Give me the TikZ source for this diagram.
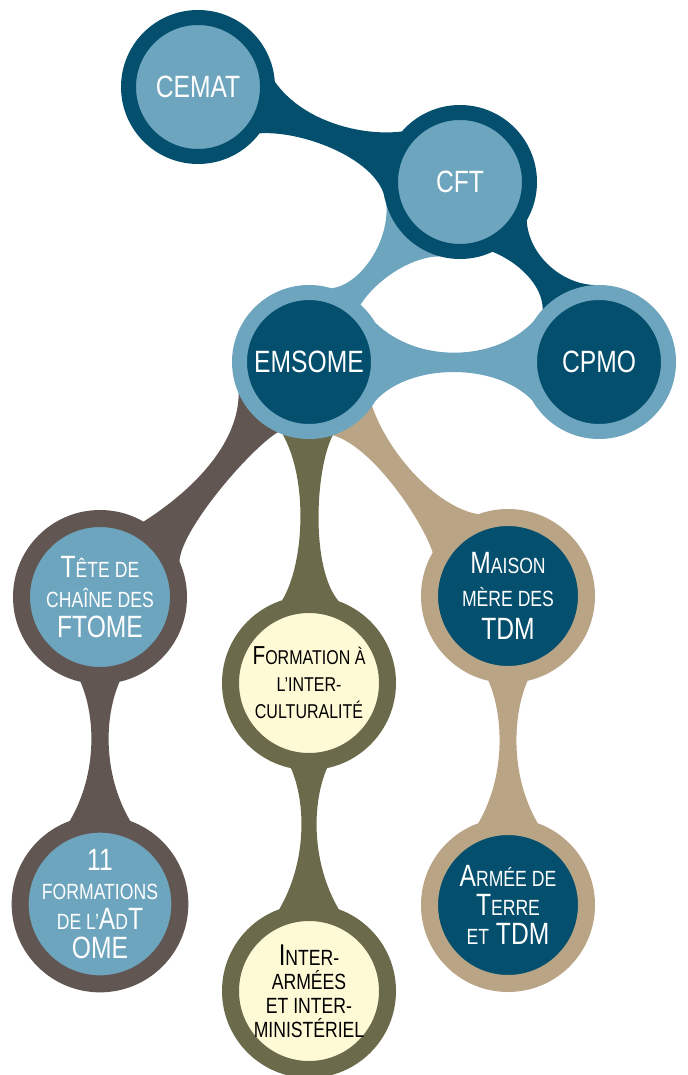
\documentclass[tikz,border=0pt]{standalone}
\usepackage{fontspec}
\usepackage{tikz}
\usetikzlibrary{backgrounds}

\newfontfamily\condsans[FakeStretch=0.8]{Liberation Sans}
\newcommand\txt[2]{\condsans\fontsize{#1}{#2}\selectfont}
\newcommand\petit[2][11]{{\fontsize{#1}{#1}\selectfont #2}}

\definecolor{dkblue}{HTML}{034F6D}
\definecolor{ltblue}{HTML}{6DA5BE}
\definecolor{taupe}{HTML}{625652}
\definecolor{mousse}{HTML}{6B6B4C}
\definecolor{sand}{HTML}{BAA486}
\definecolor{cream}{HTML}{FFFAD6}

\begin{document}
\begin{tikzpicture}[x=0.5pt, y=-0.5pt,
    hub/.style={circle, draw, inner sep=0pt, minimum size=69.5pt, line width=7.5pt, text=white, font=\txt{15.4}{15}},
    leaf/.style={circle, draw, inner sep=0pt, minimum size=78.5pt, line width=8.5pt, align=center, text=white}]
    \useasboundingbox (0,0) rectangle (687,1075);

    % Upper level
    \node[hub, draw=dkblue, fill=ltblue] (cemat) at (198,87) {CEMAT};
    \node[hub, draw=dkblue, fill=ltblue] (cft) at (460,182) {CFT};
    \node[hub, draw=ltblue, fill=dkblue] (emsome) at (309,362) {EMSOME};
    \node[hub, draw=ltblue, fill=dkblue] (cpmo) at (599,362) {CPMO};

    % Lower level
    \node[leaf, draw=taupe, fill=ltblue, font=\txt{15.4}{14.8}] (tete) at (100,597) {T\petit{ÊTE DE}\\ \petit{CHAÎNE DES}\\ FTOME};
    \node[leaf, draw=taupe, fill=ltblue, font=\txt{15.4}{14.8}] (eleven) at (100,904) {11\\ \petit{FORMATIONS}\\ \petit{DE L’}A\petit{D}T\\ OME};
    \node[leaf, draw=mousse, fill=cream, text=black, font=\txt{13}{13.5}] (form) at (309,683) {F\petit[10]{ORMATION À}\\ \petit[10]{L’INTER-}\\ \petit[10]{CULTURALITÉ}};
    \node[leaf, draw=mousse, fill=cream, text=black, font=\txt{15}{12}] (inter) at (309,991) {I\petit{NTER-}\\ \petit{ARMÉES}\\ \petit{ET INTER-}\\ \petit{MINISTÉRIEL}};
    \node[leaf, draw=sand, fill=dkblue, font=\txt{15.4}{16.5}] (maison) at (508,596) {M\petit{AISON}\\ \petit{MÈRE DES}\\ TDM};
    \node[leaf, draw=sand, fill=dkblue, font=\txt{15.4}{14.5}] (armee) at (508,905) {A\petit{RMÉE DE}\\ T\petit{ERRE}\\ \petit{ET} TDM};

    % Necks between the bubbles
    \begin{scope}[on background layer]
        \fill[dkblue] (cemat.4) .. controls +(28,40) and +(-40,5) .. (cft.139) -- (cft.194) .. controls +(-5,-40) and +(45,-3) .. (cemat.323) -- cycle;
        \fill[ltblue] (cft.197) .. controls +(3,36) and +(30,-4) .. (emsome.73) -- (emsome.48) .. controls +(14,-23) and +(-30,0) .. (cft.255) -- cycle;
        \fill[dkblue] (cft.330) .. controls +(2,35) and +(-34,0) .. (cpmo.92) -- (cpmo.137) .. controls +(0,-25) and +(25,10) .. (cft.295) -- cycle;
        \fill[ltblue] (emsome.46) .. controls +(38,61) and +(-37,58) .. (cpmo.137) -- (cpmo.210) .. controls +(-36,-38) and +(35,-38) .. (emsome.330) -- cycle;

        \fill[taupe] (emsome.204) .. controls +(0,47) and +(55,-35) .. (tete.60) -- (tete.24) .. controls +(1,-32) and +(-27,16) .. (emsome.246) -- cycle;
        \fill[mousse] (emsome.250) .. controls +(26,46) and +(22,-36) .. (form.108) -- (form.70) .. controls +(-28,-32) and +(-18,35) .. (emsome.288) -- cycle;
        \fill[sand] (emsome.288) .. controls +(42,12) and +(-8,-27) .. (maison.150) -- (maison.110) .. controls +(-41,-7) and +(17,49) .. (emsome.325) -- cycle;

        \fill[taupe] (tete.257) .. controls +(15,34) and +(28,-48) .. (eleven.110) -- (eleven.70) .. controls +(-28,-48) and +(-15,34) .. (tete.283) -- cycle;
        \fill[mousse] (form.258) .. controls +(15,34) and +(28,-48) .. (inter.110) -- (inter.70) .. controls +(-28,-48) and +(-15,34) .. (form.282) -- cycle;
        \fill[sand] (maison.257) .. controls +(15,34) and +(28,-48) .. (armee.110) -- (armee.70) .. controls +(-28,-48) and +(-15,34) .. (maison.283) -- cycle;
    \end{scope}
\end{tikzpicture}
\end{document}
